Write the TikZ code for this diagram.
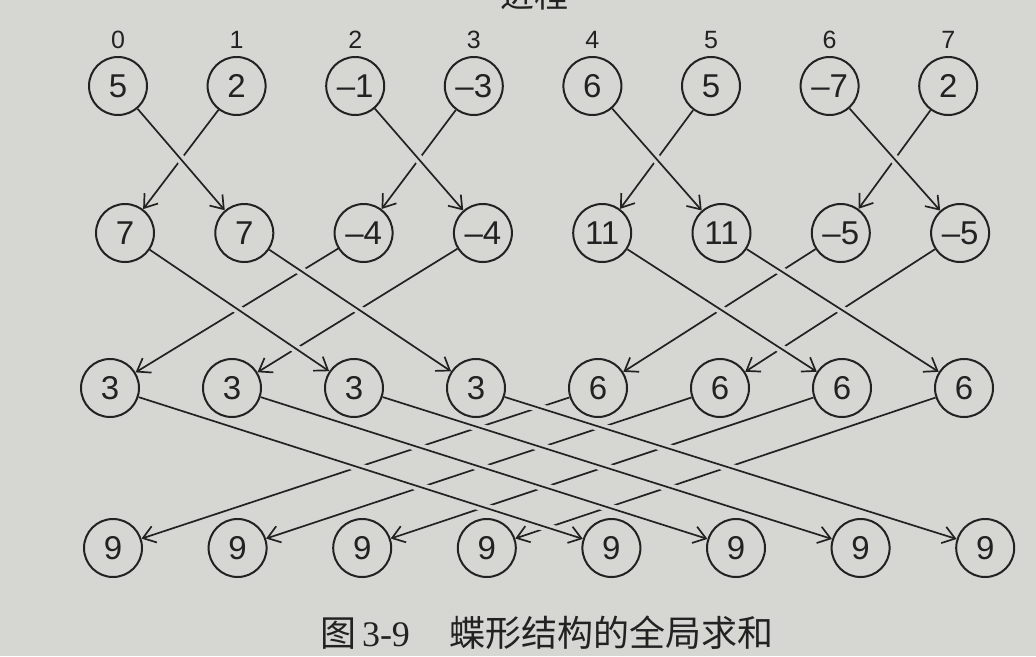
\documentclass[tikz,border=0pt]{standalone}
\usepackage{fontspec}
\setmainfont{Liberation Serif}
\setsansfont{Liberation Sans}
\newfontfamily\cjk{Noto Sans CJK SC}
\usetikzlibrary{arrows.meta,positioning}
\definecolor{paper}{RGB}{214,214,211}
\definecolor{ink}{RGB}{34,34,34}
\tikzset{
  proc/.style={circle, draw=ink, line width=2pt, minimum size=58pt, inner sep=0pt,
    text=ink, font=\sffamily\fontsize{33}{35}\selectfont},
  idx/.style={inner sep=0pt, text=ink, font=\sffamily\fontsize{25}{27}\selectfont},
  msg/.style={draw=ink, line width=1.7pt,
    -{Straight Barb[length=12pt,width=17pt,line width=1.7pt]}},
  over/.style={msg, preaction={-, draw=paper, line width=9pt, shorten <=12pt, shorten >=12pt}}
}

\begin{document}
\begin{tikzpicture}[x=1pt,y=1pt]
\fill[paper] (0,0) rectangle (1036,-656);
\useasboundingbox (0,0) rectangle (1036,-656);
% title, cut at the top edge
\node[anchor=south, inner sep=0pt, text=ink, font=\cjk\fontsize{34}{36}\selectfont] (title) at (534,-10) {进程};
% processes, one row per step
\foreach \v [count=\i from 0] in {5,2,–1,–3,6,5,–7,2}
  \node[proc] (a\i) at (118+118.6*\i,-86) {\v};
\foreach \v [count=\i from 0] in {7,7,–4,–4,11,11,–5,–5}
  \node[proc] (b\i) at (125+119.3*\i,-233) {\v};
\foreach \v [count=\i from 0] in {3,3,3,3,6,6,6,6}
  \node[proc] (c\i) at (110+122*\i,-388) {\v};
\foreach \v [count=\i from 0] in {9,9,9,9,9,9,9,9}
  \node[proc] (d\i) at (113+124.6*\i,-548) {\v};
\foreach \i in {0,...,7}
  \node[idx, above=7pt of a\i] (n\i) {\i};
% exchanges: left-going first, right-going over them
\foreach \s/\t/\k/\list in {a/b/1/{0,2,4,6}, b/c/2/{0,1,4,5}, c/d/4/{0,1,2,3}} {
  \foreach \i in \list {
    \pgfmathtruncatemacro\j{\i+\k}
    \draw[msg] (\s\j) -- (\t\i);
  }
  \foreach \i in \list {
    \pgfmathtruncatemacro\j{\i+\k}
    \draw[over] (\s\i) -- (\t\j);
  }
}
\node[text=ink, font=\fontsize{36}{40}\selectfont] (cap) at (547,-633)
  {{\cjk 图}\hspace{6pt}3-9\hspace{40pt}{\cjk 蝶形结构的全局求和}};
\end{tikzpicture}
\end{document}
